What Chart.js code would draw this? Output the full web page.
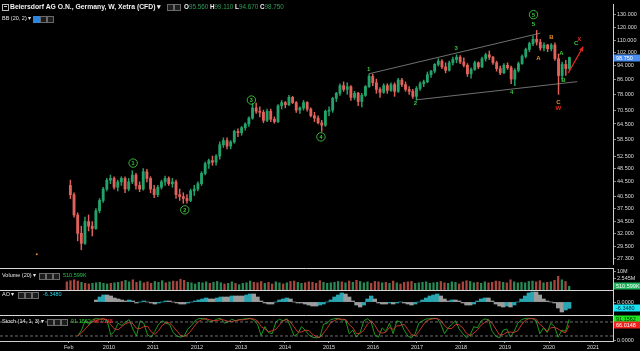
<!DOCTYPE html>
<html><head><meta charset="utf-8">
<script src="https://cdn.jsdelivr.net/npm/chart.js@4/dist/chart.umd.min.js"></script>
<style>
html,body{margin:0;padding:0;background:#000;overflow:hidden}
#wrap{position:relative;width:640px;height:351px;background:#000;font-family:'Liberation Sans',Arial,sans-serif}
canvas{position:absolute;left:0;display:block}
.t{position:absolute;white-space:nowrap;color:#e6e6e6;font-size:5.5px;line-height:7px}
.ic{position:absolute;width:5px;height:5px;border:0.7px solid #6a6a6a;background:#1c1c1c}
.g{color:#2f9e55}
</style></head><body>
<div id="wrap">
<canvas id="cMain" width="640" height="268" style="top:0px"></canvas>
<canvas id="cVol" width="640" height="22" style="top:268px"></canvas>
<canvas id="cAO" width="640" height="25" style="top:290px"></canvas>
<canvas id="cSto" width="640" height="36" style="top:315px"></canvas>

<div class="ic" style="left:2px;top:3.5px;border-color:#bbb;background:#000"></div>
<div style="position:absolute;left:3.5px;top:6.2px;width:3px;height:0.8px;background:#ccc"></div>
<div class="t" style="left:10px;top:3px;font-size:6.8px;font-weight:bold;color:#f2f2f2">Beiersdorf AG O.N., Germany, W, Xetra (CFD) ▾</div>
<div class="ic" style="left:167px;top:4px"></div>
<div class="ic" style="left:174px;top:4px"></div>
<div class="t" style="left:184px;top:3px;font-size:6.3px;color:#f2f2f2"><b>O</b><span class="g">95.560</span> <b>H</b><span class="g">99.110</span> <b>L</b><span class="g">94.670</span> <b>C</b><span class="g">98.750</span></div>
<div class="t" style="left:2px;top:14.5px">BB (20, 2) ▾</div>
<div class="ic" style="left:33px;top:15.5px;background:#2a86e0;border-color:#2a86e0"></div>
<div class="ic" style="left:40px;top:15.5px"></div>
<div class="ic" style="left:47px;top:15.5px"></div>

<div class="t" style="left:2px;top:272px">Volume (20) ▾</div>
<div class="ic" style="left:39px;top:273px"></div><div class="ic" style="left:46px;top:273px"></div><div class="ic" style="left:53px;top:273px"></div>
<div class="t" style="left:63px;top:272px;color:#27c24c">510.599K</div>

<div class="t" style="left:2px;top:291px">AO ▾</div>
<div class="ic" style="left:18px;top:292px"></div><div class="ic" style="left:25px;top:292px"></div><div class="ic" style="left:32px;top:292px"></div>
<div class="t" style="left:43px;top:291px;color:#22d3e6">-6.3480</div>

<div class="t" style="left:2px;top:318px">Stoch (14, 1, 3) ▾</div>
<div class="ic" style="left:47px;top:319px"></div><div class="ic" style="left:54px;top:319px"></div><div class="ic" style="left:61px;top:319px"></div>
<div class="t" style="left:71px;top:318px;color:#2bd42b">91.1562</div>
<div class="t" style="left:93px;top:318px;color:#ff3434">66.0148</div>
</div>
<script>
// ---------------- DATA ----------------
const dates = [
'2009-01','2009-02','2009-03','2009-04','2009-05','2009-06','2009-07','2009-08','2009-09','2009-10','2009-11','2009-12',
'2010-01','2010-02','2010-03','2010-04','2010-05','2010-06','2010-07','2010-08','2010-09','2010-10','2010-11','2010-12',
'2011-01','2011-02','2011-03','2011-04','2011-05','2011-06','2011-07','2011-08','2011-09','2011-10','2011-11','2011-12',
'2012-01','2012-02','2012-03','2012-04','2012-05','2012-06','2012-07','2012-08','2012-09','2012-10','2012-11','2012-12',
'2013-01','2013-02','2013-03','2013-04','2013-05','2013-06','2013-07','2013-08','2013-09','2013-10','2013-11','2013-12',
'2014-01','2014-02','2014-03','2014-04','2014-05','2014-06','2014-07','2014-08','2014-09','2014-10','2014-11','2014-12',
'2015-01','2015-02','2015-03','2015-04','2015-05','2015-06','2015-07','2015-08','2015-09','2015-10','2015-11','2015-12',
'2016-01','2016-02','2016-03','2016-04','2016-05','2016-06','2016-07','2016-08','2016-09','2016-10','2016-11','2016-12',
'2017-01','2017-02','2017-03','2017-04','2017-05','2017-06','2017-07','2017-08','2017-09','2017-10','2017-11','2017-12',
'2018-01','2018-02','2018-03','2018-04','2018-05','2018-06','2018-07','2018-08','2018-09','2018-10','2018-11','2018-12',
'2019-01','2019-02','2019-03','2019-04','2019-05','2019-06','2019-07','2019-08','2019-09','2019-10','2019-11','2019-12',
'2020-01','2020-02','2020-03','2020-04','2020-05','2020-06'];

const opens = [
43.5,41,36,32,30,34.5,33.5,33,37,39.5,42.5,45,
45.5,43,44.5,45.5,42.5,44.5,46.5,43.5,42.5,47.5,45.5,42.5,
41,43,44.5,45.5,44,44.5,41,40.5,40,39.5,42,42.5,
44,47,50,51,50.5,52.5,56.5,58,56,57.5,61.5,61,
63,64.5,67,71.5,70,69.5,66,70,66.5,65.5,72.5,74,
73,76.5,74,70.5,71.5,74,71,68,67,65,64,70,
70.5,76,78.5,82.5,80.5,82,76.5,78.5,74.5,77.5,82,87.5,
84,80.5,79,82.5,80,83,79.5,85.5,83,80.5,79.5,77,
81,83.5,84.5,88.5,90.5,94.5,96.5,93,91,95.5,97.5,99,
96,94,89,91.5,95.5,93,98,100.5,99,95.5,92,89.5,
94,92.5,86,91,95,99.5,104,108,111,109,105,107,
104.5,107,98,88,94.5,92];

const highs = [
45,41.5,36.5,33.5,35.5,36,34.5,37.5,40,43,45.5,46.5,
46,45,46,46,45.5,47.8,47,44.5,48.5,48.2,46,43.5,
43.5,45,46.2,46,45.5,45,42.5,41.5,41,42.5,43.5,44.5,
47.5,50.5,51.5,52.5,53,57.5,59,59,58,62,62.5,63.5,
65,67.5,73.5,73.8,72,70.5,71,71,67.5,73,75,74.5,
77.5,77,74.5,72,75,74.5,71.5,69.5,68,66,70.5,72,
76.5,79,83.5,84.5,84,82.5,79.5,79,78.5,82.5,88.5,88.8,
86,81.5,83.5,83.5,84,84,86.5,86.5,84.5,82,80.5,82,
84.5,85.5,90,91,95,98,97.5,95.5,96.5,99,100.5,100,
98.5,95,92.5,96.5,96,99,101.5,103,99.5,96.5,93.5,95,
95.5,93.5,92,96,100.5,105,109,113.5,117.5,111,108.5,107.5,
108,108.5,101,96,97,99.11];

const lows = [
40,35.5,30.5,28.8,29.8,32.5,31.5,32.8,36.5,39,42,44,
42.5,42,43.5,41.5,42,44,42.5,41.8,42.2,44.5,41.5,40.2,
40.5,42.5,43.5,43.5,43,40,39.5,38.8,38.8,39.2,40.8,42,
43.5,46.5,48.5,49.5,49.5,51.5,55.5,55,55,57,59.5,60,
62,63.5,66.5,69,67.5,65,65.5,65.5,64.8,65,71,71.5,
72.5,73.5,69.5,69,70.5,70,67.5,65.5,64.5,61.5,63.5,68,
69.5,74.5,77.5,79.5,78,75,75.5,72.5,72,77,81.5,82.5,
78.5,76.5,78.5,78.5,79.5,77,79,82,79.5,78,76,75.2,
80,82,84,87,89.5,93.5,92,89.5,90.5,94,95.5,95,
93,87.5,86.5,91,92,92.5,96.5,97.5,94.5,90.5,88.5,89,
91.5,83.5,82.5,90,94.5,98.5,102.5,106.5,107,103.5,103,102.5,
103,97,78,86,88,91];

const closes = [
41,36,32,30,34.5,33.5,33,37,39.5,42.5,45,45.5,
43,44.5,45.5,42.5,44.5,46.5,43.5,42.5,47.5,45.5,42.5,41,
43,44.5,45.5,44,44.5,41,40.5,40,39.5,42,42.5,44,
47,50,51,50.5,52.5,56.5,58,56,57.5,61.5,61,63,
64.5,67,71.5,70,69.5,66,70,66.5,65.5,72.5,74,73,
76.5,74,70.5,71.5,74,71,68,67,65,64,70,70.5,
76,78.5,82.5,80.5,82,76.5,78.5,74.5,77.5,82,87.5,84,
80.5,79,82.5,80,83,79.5,85.5,83,80.5,79.5,77,81,
83.5,84.5,88.5,90.5,94.5,96.5,93,91,95.5,97.5,99,96,
94,89,91.5,95.5,93,98,100.5,99,95.5,92,89.5,94,
92.5,86,91,95,99.5,104,108,111,109,105,107,104.5,
107,98,88,94.5,92,98.75];

// volume, millions of shares
const volumes = [
1.2,1.5,1.8,1.4,1.1,0.9,0.8,0.9,1.0,1.1,0.9,0.8,
0.9,1.0,1.1,1.3,1.6,1.2,1.8,1.1,1.4,1.0,1.2,0.9,
1.3,1.1,1.5,1.0,1.2,1.4,1.3,2.0,1.6,1.1,1.0,0.8,
1.1,1.0,1.2,0.9,1.1,1.3,1.0,0.8,0.9,1.2,0.9,0.7,
0.9,1.0,1.4,1.1,1.0,1.3,0.9,1.1,0.8,1.2,1.0,0.8,
1.0,1.3,1.4,1.1,0.9,1.0,1.2,1.1,0.9,1.5,1.1,0.9,
1.0,1.1,1.3,1.2,1.0,1.4,1.1,1.6,1.3,1.0,1.2,0.9,
1.3,1.2,1.0,1.1,0.9,1.4,1.0,0.8,1.1,1.2,1.3,0.9,
1.0,1.1,1.2,0.9,1.0,1.1,1.3,1.0,0.9,1.2,1.1,0.8,
1.2,1.5,1.3,1.0,1.1,0.9,1.2,1.0,1.1,1.4,1.3,1.1,
1.0,1.8,1.2,1.0,1.1,1.0,1.3,1.4,1.2,1.5,1.0,1.1,
1.2,1.6,3.5,1.8,1.3,0.510599];

const aoValues = [
null,null,null,null,null,null,null,null,2,5,7,7,
6,4,3,2,1,2,1,-1,0,1,0,-1,
-2,-1,0,1,1,0,-1,-2,-2,-1,0,1,
2,3,4,3,3,4,5,5,5,6,6,6,
6,7,8,8,5,1,-1,-2,-2,0,2,3,
4,3,0,-1,-1,-2,-3,-4,-4,-3,-2,0,
2,5,7,9,8,5,1,-3,-5,-3,3,6,
3,-1,-2,-2,-1,-2,-1,0,-1,-2,-3,-2,
0,2,4,6,7,8,6,3,1,2,2,1,
-1,-3,-3,-2,1,3,4,4,1,-2,-4,-5,
-4,-5,-3,0,3,6,9,10,10,7,3,1,
0,-1,-6,-10,-8,-6.348];

const stochK = [
null,null,null,20,45,85,70,90,95,92,94,85,
25,40,75,65,80,90,50,20,85,75,25,15,
40,70,85,75,70,35,20,15,20,50,65,85,
95,95,92,80,85,93,95,75,80,92,85,90,
92,94,96,88,70,22,60,35,30,80,92,85,
94,60,20,30,60,45,25,15,12,15,70,75,
90,94,95,88,90,30,45,15,35,85,94,80,
25,15,55,40,75,30,85,80,45,20,12,30,
75,85,93,94,96,95,70,30,55,70,85,50,
30,12,25,60,55,85,93,90,40,20,12,45,
50,15,40,75,90,95,96,94,85,30,55,35,
75,60,15,45,40,91.1562];

const stochD = [
null,null,null,20,33,50,67,82,85,92,94,90,
68,50,47,60,73,78,73,53,52,60,62,38,
27,42,65,77,77,60,42,23,18,28,45,67,
82,92,94,89,86,86,91,88,83,82,86,89,
89,92,94,93,85,60,51,39,42,48,67,86,
90,80,58,37,37,45,43,28,17,14,32,53,
78,86,93,92,91,69,55,30,32,45,71,86,
66,40,32,37,57,48,63,65,70,48,26,21,
39,63,84,91,94,95,87,65,52,52,70,68,
55,31,22,32,47,67,78,89,74,50,24,26,
36,37,35,43,68,87,94,95,92,70,57,40,
55,57,50,40,33,66.0148];

const priceTicks = [130,120,110,102,94,86,78,70.5,64.5,58.5,52.5,48.5,44.5,40.5,37.5,34.5,32,29.5,27.3];
const volTicks = [10, 2.545];
const volTickLabels = ['10M','2.545M'];
const xTickValues = [2009.085,2010,2011,2012,2013,2014,2015,2016,2017,2018,2019,2020,2021];
const xTickLabels = ['Feb','2010','2011','2012','2013','2014','2015','2016','2017','2018','2019','2020','2021'];

// Elliott wave annotations (date as decimal year, price)
const waveText  = ['1','2','3','4','5','1','2','3','4','5','A','B','C','W','A','B','C','X'];
const waveDate  = [2010.477,2011.659,2013.182,2014.773,2019.636,2015.864,2016.932,2017.864,2019.136,2019.636,2019.75,2020.045,2020.205,2020.205,2020.273,2020.318,2020.614,2020.682];
const wavePrice = [50.2,37.2,75.2,59.4,130,91.8,73.4,104.6,79.0,122.2,98.3,112.7,74.3,71.1,101.4,85.2,107.9,111.3];
const waveKind  = ['circle','circle','circle','circle','circle','green','green','green','green','green','orange','orange','orange','red','green','green','green','red'];
const upperChannelDate = [2015.864, 2019.795];
const upperChannelPrice = [88.96, 115.5];
const lowerChannelDate = [2016.955, 2020.636];
const lowerChannelPrice = [75.3, 84.6];
const arrowDate = [2020.432, 2020.773];
const arrowPrice = [89.5, 105.9];
const markerDate = [2008.273];
const markerPrice = [27.98];

// ---------------- STYLE / HELPERS ----------------
const X_MIN = 2007.523, X_MAX = 2021.4545;
const UP = '#23a36a', DN = '#e1625a';
const VUP = '#2a8a55', VDN = '#a9473f';
const TEAL = '#2aa6b2', GRAY = '#9c9c9c';
const GREEN = '#3cc83c', ORANGE = '#e48d2b', RED = '#e02a1e';
const LBL = '#dcdcdc', AXIS = '#cfcfcf';
const FONT = 'Liberation Sans';
Chart.defaults.font.family = FONT;
Chart.defaults.animation = false;

const xOf = d => { const p = d.split('-'); return +p[0] + (+p[1] - 0.5) / 12; };
const xs = dates.map(xOf);
const isUp = closes.map((c, i) => c >= opens[i]);

function fitY(s) { s.width = 27; s.paddingTop = 0; s.paddingBottom = 0; }
function hiddenX() {
  return { type: 'linear', min: X_MIN, max: X_MAX, offset: false, display: false, grid: { offset: false } };
}
function yBase(extra) {
  return Object.assign({
    position: 'right', afterFit: fitY,
    border: { display: true, color: AXIS, width: 1 },
    grid: { display: true, drawOnChartArea: false, drawTicks: true, tickLength: 3, color: '#aaaaaa', lineWidth: 0.8 },
    ticks: { autoSkip: false, font: { size: 5.5, family: FONT }, color: LBL, padding: 1 }
  }, extra);
}
function boxPlugin(items) {
  return { id: 'vbox', afterDraw(chart) {
    const s = chart.scales.y, ctx = chart.ctx;
    ctx.save();
    items.forEach(b => {
      const py = s.getPixelForValue(b.value);
      ctx.fillStyle = b.bg; ctx.fillRect(s.left + 1, Math.round(py) - 3.5, 26, 7);
      ctx.fillStyle = b.fg; ctx.font = '5.5px "' + FONT + '"';
      ctx.textBaseline = 'middle'; ctx.textAlign = 'left';
      ctx.fillText(b.text, s.left + 3, Math.round(py) + 0.3);
    });
    ctx.restore();
  } };
}
const sepPlugin = { id: 'sep', afterDraw(chart) {
  const ctx = chart.ctx, a = chart.chartArea;
  ctx.save(); ctx.strokeStyle = '#d6d6d6'; ctx.lineWidth = 1;
  ctx.beginPath(); ctx.moveTo(0, a.top + 0.5); ctx.lineTo(a.right, a.top + 0.5); ctx.stroke();
  ctx.restore();
} };
const common = { responsive: false, maintainAspectRatio: false, animation: false, events: [],
  layout: { padding: 0 }, plugins: { legend: { display: false }, tooltip: { enabled: false } } };

// ---------------- MAIN PRICE CHART ----------------
const mainOverlay = { id: 'mainOverlay', afterDatasetsDraw(chart) {
  const ctx = chart.ctx, x = chart.scales.x, y = chart.scales.y;
  ctx.save();
  const x1 = x.getPixelForValue(arrowDate[0]), y1 = y.getPixelForValue(arrowPrice[0]);
  const x2 = x.getPixelForValue(arrowDate[1]), y2 = y.getPixelForValue(arrowPrice[1]);
  const ang = Math.atan2(y2 - y1, x2 - x1), L = 5;
  ctx.fillStyle = RED; ctx.beginPath(); ctx.moveTo(x2, y2);
  ctx.lineTo(x2 - L * Math.cos(ang - 0.45), y2 - L * Math.sin(ang - 0.45));
  ctx.lineTo(x2 - L * Math.cos(ang + 0.45), y2 - L * Math.sin(ang + 0.45));
  ctx.closePath(); ctx.fill();
  ctx.textAlign = 'center'; ctx.textBaseline = 'middle';
  const col = { green: GREEN, orange: ORANGE, red: RED };
  waveText.forEach((t, i) => {
    const px = x.getPixelForValue(waveDate[i]), py = y.getPixelForValue(wavePrice[i]);
    if (waveKind[i] === 'circle') {
      ctx.strokeStyle = GREEN; ctx.lineWidth = 0.9;
      ctx.beginPath(); ctx.arc(px, py, 4.2, 0, Math.PI * 2); ctx.stroke();
      ctx.fillStyle = GREEN; ctx.font = 'bold 5.5px "' + FONT + '"'; ctx.fillText(t, px, py + 0.4);
    } else {
      ctx.fillStyle = col[waveKind[i]]; ctx.font = 'bold 6px "' + FONT + '"'; ctx.fillText(t, px, py);
    }
  });
  ctx.restore();
} };

new Chart(document.getElementById('cMain'), {
  type: 'bar',
  data: { datasets: [
    { type: 'bar', order: 3, grouped: false, barThickness: 0.8, borderWidth: 0,
      data: xs.map((v, i) => ({ x: v, y: [lows[i], highs[i]] })),
      backgroundColor: isUp.map(u => u ? UP : DN) },
    { type: 'bar', order: 2, grouped: false, barThickness: 2.2, borderWidth: 0,
      data: xs.map((v, i) => ({ x: v, y: [opens[i], closes[i]] })),
      backgroundColor: isUp.map(u => u ? UP : DN) },
    { type: 'line', order: 1, data: upperChannelDate.map((d, i) => ({ x: d, y: upperChannelPrice[i] })),
      borderColor: '#8c8c8c', borderWidth: 0.8, pointRadius: 0 },
    { type: 'line', order: 1, data: lowerChannelDate.map((d, i) => ({ x: d, y: lowerChannelPrice[i] })),
      borderColor: '#8c8c8c', borderWidth: 0.8, pointRadius: 0 },
    { type: 'line', order: 0, data: arrowDate.map((d, i) => ({ x: d, y: arrowPrice[i] })),
      borderColor: RED, borderWidth: 1.2, pointRadius: 0 },
    { type: 'line', order: 0, showLine: false, data: markerDate.map((d, i) => ({ x: d, y: markerPrice[i] })),
      pointRadius: 1, pointBackgroundColor: ORANGE, pointBorderWidth: 0 }
  ] },
  options: Object.assign({}, common, {
    scales: {
      x: hiddenX(),
      y: yBase({ type: 'logarithmic', min: 26.29, max: 139.2,
        afterBuildTicks: s => { s.ticks = priceTicks.map(v => ({ value: v })); },
        ticks: { autoSkip: false, font: { size: 5.5, family: FONT }, color: LBL, padding: 1, callback: v => Number(v).toFixed(3) } })
    }
  }),
  plugins: [mainOverlay, boxPlugin([{ value: 98.75, text: '98.750', bg: '#4a8df0', fg: '#ffffff' }])]
});

// ---------------- VOLUME ----------------
new Chart(document.getElementById('cVol'), {
  type: 'bar',
  data: { datasets: [{ grouped: false, barThickness: 1.6, borderWidth: 0,
    data: xs.map((v, i) => ({ x: v, y: volumes[i] })),
    backgroundColor: isUp.map(u => u ? VUP : VDN) }] },
  options: Object.assign({}, common, {
    scales: {
      x: hiddenX(),
      y: yBase({ type: 'logarithmic', min: 0.2445, max: 17.97,
        afterBuildTicks: s => { s.ticks = volTicks.map(v => ({ value: v })); },
        ticks: { autoSkip: false, font: { size: 5.5, family: FONT }, color: LBL, padding: 1, callback: (v, i) => volTickLabels[i] } })
    }
  }),
  plugins: [sepPlugin, boxPlugin([{ value: 0.510599, text: '510.599K', bg: '#1fb25a', fg: '#ffffff' }])]
});

// ---------------- AWESOME OSCILLATOR ----------------
new Chart(document.getElementById('cAO'), {
  type: 'bar',
  data: { datasets: [{ grouped: false, barThickness: 3.7, borderWidth: 0,
    data: xs.map((v, i) => ({ x: v, y: aoValues[i] })),
    backgroundColor: aoValues.map((v, i) => (i > 0 && aoValues[i - 1] !== null && v > aoValues[i - 1]) ? TEAL : GRAY) }] },
  options: Object.assign({}, common, {
    scales: {
      x: hiddenX(),
      y: yBase({ type: 'linear', min: -13, max: 12,
        afterBuildTicks: s => { s.ticks = [{ value: 0 }]; },
        ticks: { autoSkip: false, font: { size: 5.5, family: FONT }, color: LBL, padding: 1, callback: v => Number(v).toFixed(4) } })
    }
  }),
  plugins: [sepPlugin, boxPlugin([{ value: -6.348, text: '-6.3480', bg: '#19e3f2', fg: '#002233' }])]
});

// ---------------- STOCHASTIC ----------------
new Chart(document.getElementById('cSto'), {
  type: 'line',
  data: { datasets: [
    { data: [{ x: X_MIN, y: 80 }, { x: X_MAX, y: 80 }], borderColor: '#8a8a8a', borderWidth: 0.8, borderDash: [3, 2], pointRadius: 0 },
    { data: [{ x: X_MIN, y: 20 }, { x: X_MAX, y: 20 }], borderColor: '#8a8a8a', borderWidth: 0.8, borderDash: [3, 2], pointRadius: 0 },
    { data: xs.map((v, i) => ({ x: v, y: stochD[i] })), borderColor: '#d93a32', borderWidth: 0.9, pointRadius: 0 },
    { data: xs.map((v, i) => ({ x: v, y: stochK[i] })), borderColor: '#1faa1f', borderWidth: 0.9, pointRadius: 0 }
  ] },
  options: Object.assign({}, common, {
    scales: {
      x: { type: 'linear', min: X_MIN, max: X_MAX, offset: false, position: 'bottom',
        afterBuildTicks: s => { s.ticks = xTickValues.map(v => ({ value: v })); },
        afterFit: s => { s.height = 10; s.paddingLeft = 0; s.paddingRight = 0; },
        ticks: { autoSkip: false, maxRotation: 0, minRotation: 0, font: { size: 5.5, family: FONT }, color: LBL, padding: 1,
          callback: (v, i) => xTickLabels[i] },
        grid: { display: true, drawOnChartArea: false, drawTicks: true, tickLength: 2, color: '#aaaaaa', offset: false },
        border: { display: true, color: AXIS, width: 1 } },
      y: yBase({ type: 'linear', min: -1.43, max: 110,
        afterBuildTicks: s => { s.ticks = [{ value: 0 }]; },
        ticks: { autoSkip: false, font: { size: 5.5, family: FONT }, color: LBL, padding: 1, callback: v => Number(v).toFixed(4) } })
    }
  }),
  plugins: [sepPlugin, boxPlugin([
    { value: 91.1562, text: '91.1562', bg: '#1ee61e', fg: '#002200' },
    { value: 66.0148, text: '66.0148', bg: '#f0201c', fg: '#ffffff' }])]
});
</script>
</body></html>
